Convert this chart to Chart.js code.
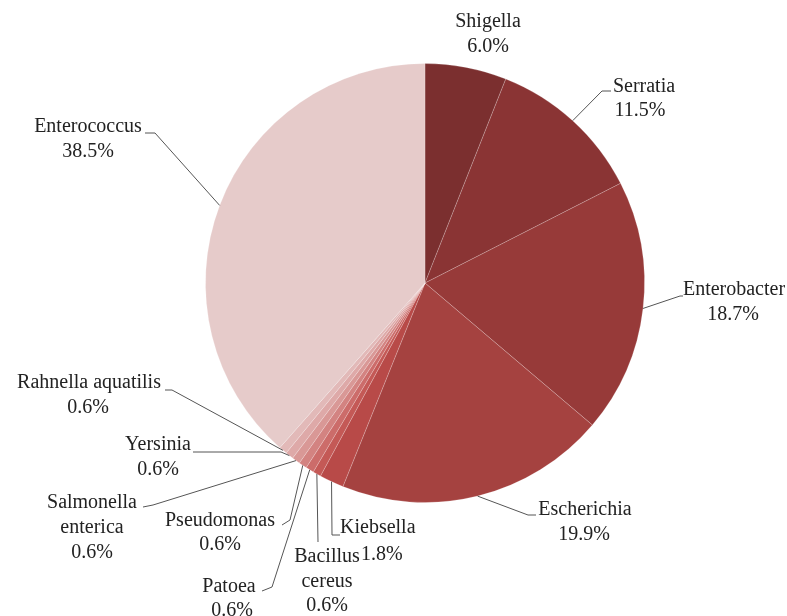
<!DOCTYPE html>
<html>
<head>
<meta charset="utf-8">
<script src="https://cdn.jsdelivr.net/npm/chart.js@4.4.0/dist/chart.umd.min.js"></script>
<style>
  html, body { margin: 0; padding: 0; background: #fff; }
  #wrap { width: 787px; height: 616px; }
</style>
</head>
<body>
<div id="wrap"><canvas id="genusPie" width="787" height="616"></canvas></div>
<script>
// genus share of isolates (%), clockwise from 12 o'clock
const genera = ['Shigella', 'Serratia', 'Enterobacter', 'Escherichia', 'Kiebsella',
  'Bacillus cereus', 'Patoea', 'Pseudomonas', 'Salmonella enterica', 'Yersinia',
  'Rahnella aquatilis', 'Enterococcus'];
const shares = [6.0, 11.5, 18.7, 19.9, 1.8, 0.6, 0.6, 0.6, 0.6, 0.6, 0.6, 38.5];
const sliceColors = ['#7b2f2f', '#8a3434', '#973a39', '#a54240', '#b84a48', '#c45956',
  '#cc6c6a', '#d38381', '#d99896', '#dea9a8', '#e2b9b8', '#e6cbca'];

// where each label sits: text lines [x, y, align], and bend points of the leader line
const labelLayout = [
  { split: false, lines: [[488, 22, 'center'], [488, 47, 'center']], bends: null },
  { split: false, lines: [[644, 87, 'center'], [640, 111, 'center']], bends: [[602, 91], [611, 91]] },
  { split: false, lines: [[734, 290, 'center'], [733, 315, 'center']], bends: [[680, 296], [683, 296]] },
  { split: false, lines: [[585, 510, 'center'], [584, 535, 'center']], bends: [[528, 515], [536, 515]] },
  { split: false, lines: [[340, 528, 'left'], [361, 555, 'left']], bends: [[332, 535], [340, 535]] },
  { split: true, lines: [[327, 557, 'center'], [327, 582, 'center'], [327, 606, 'center']], bends: [[318, 542]] },
  { split: false, lines: [[229, 587, 'center'], [232, 611, 'center']], bends: [[272, 587], [262, 591]] },
  { split: false, lines: [[220, 521, 'center'], [220, 545, 'center']], bends: [[290, 520], [282, 525]] },
  { split: true, lines: [[92, 503, 'center'], [92, 528, 'center'], [92, 553, 'center']], bends: [[153, 505], [143, 507]] },
  { split: false, lines: [[158, 445, 'center'], [158, 470, 'center']], bends: [[281, 452], [193, 452]] },
  { split: false, lines: [[89, 383, 'center'], [88, 408, 'center']], bends: [[172, 390], [165, 390]] },
  { split: false, lines: [[88, 127, 'center'], [88, 152, 'center']], bends: [[155, 133], [145, 133]] }
];

const leaderLabels = {
  id: 'leaderLabels',
  afterDatasetsDraw(chart) {
    const ctx = chart.ctx;
    const meta = chart.getDatasetMeta(0);
    ctx.save();
    meta.data.forEach((arc, i) => {
      const lay = labelLayout[i];
      const p = arc.getProps(['x', 'y', 'startAngle', 'endAngle', 'outerRadius'], true);
      const mid = (p.startAngle + p.endAngle) / 2;
      const ax = p.x + Math.cos(mid) * p.outerRadius;
      const ay = p.y + Math.sin(mid) * p.outerRadius;

      if (lay.bends) {
        ctx.beginPath();
        ctx.strokeStyle = '#555';
        ctx.lineWidth = 1;
        ctx.moveTo(ax, ay);
        lay.bends.forEach(b => ctx.lineTo(b[0], b[1]));
        ctx.stroke();
      }

      const name = genera[i];
      const texts = (lay.split ? name.split(' ') : [name]).concat(shares[i].toFixed(1) + '%');
      ctx.fillStyle = '#222';
      ctx.font = '20px "Liberation Serif", "Times New Roman", serif';
      ctx.textBaseline = 'middle';
      texts.forEach((t, k) => {
        const [tx, ty, align] = lay.lines[k];
        ctx.textAlign = align;
        ctx.fillText(t, tx, ty);
      });
    });
    ctx.restore();
  }
};

new Chart(document.getElementById('genusPie'), {
  type: 'pie',
  data: {
    labels: genera,
    datasets: [{
      data: shares,
      backgroundColor: sliceColors,
      borderColor: 'rgba(255,255,255,0.2)',
      borderWidth: 1
    }]
  },
  options: {
    responsive: false,
    animation: false,
    devicePixelRatio: 1,
    layout: { padding: { left: 205, right: 142, top: 63, bottom: 113 } },
    plugins: {
      legend: { display: false },
      tooltip: { enabled: false }
    }
  },
  plugins: [leaderLabels]
});
</script>
</body>
</html>
